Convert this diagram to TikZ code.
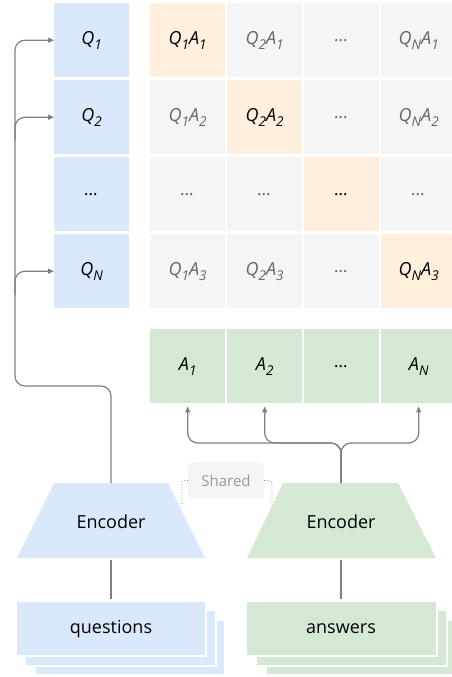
\documentclass[tikz,border=0pt]{standalone}
\usepackage{fontspec}
\setmainfont{Open Sans}
\usetikzlibrary{arrows.meta}
\definecolor{qblue}{HTML}{DAE8FC}
\definecolor{agreen}{HTML}{D5E8D4}
\definecolor{diag}{HTML}{FFEFDC}
\definecolor{cellgray}{HTML}{F5F5F5}
\definecolor{linegray}{HTML}{808080}
\definecolor{txtgray}{HTML}{666666}
\definecolor{sharedtxt}{HTML}{9A9A9A}
\newcommand\qsub[2]{#1\raisebox{-0.28em}{\fontsize{13.5}{14}\selectfont #2}}
\begin{document}
\begin{tikzpicture}[x=1pt,y=-1pt,
  cell/.style={minimum width=75pt,minimum height=74pt,inner sep=0pt,anchor=north west,
    font=\fontsize{18}{21}\selectfont\itshape},
  qcell/.style={cell,fill=qblue,text=black},
  gcell/.style={cell,fill=cellgray,text=txtgray},
  dcell/.style={cell,fill=diag,text=black},
  acell/.style={cell,fill=agreen,text=black},
  conn/.style={draw=linegray,line width=1.2pt,rounded corners=10pt},
  arr/.style={conn,-{Triangle[length=6pt,width=5pt]}},
  layerq/.style={fill=qblue,draw=white,line width=1.2pt},
  layera/.style={fill=agreen,draw=white,line width=1.2pt},
  lbl/.style={font=\fontsize{18}{21}\selectfont,text=black,inner sep=0pt},
  dotconn/.style={draw=linegray,dotted,line width=0.7pt,rounded corners=3pt}]
\useasboundingbox (0,0) rectangle (451,677);

% Q column
\node[qcell] (q1) at (54,3) {\qsub{Q}{1}};
\node[qcell] (q2) at (54,80) {\qsub{Q}{2}};
\node[qcell] (q3) at (54,157) {...};
\node[qcell] (qn) at (54,234) {\qsub{Q}{N}};

% matrix
\node[dcell] (m11) at (150,3) {\qsub{Q}{1}\qsub{A}{1}};
\node[gcell] (m21) at (227,3) {\qsub{Q}{2}\qsub{A}{1}};
\node[gcell] (m31) at (304,3) {...};
\node[gcell] (m41) at (381,3) {\qsub{Q}{N}\qsub{A}{1}};

\node[gcell] (m12) at (150,80) {\qsub{Q}{1}\qsub{A}{2}};
\node[dcell] (m22) at (227,80) {\qsub{Q}{2}\qsub{A}{2}};
\node[gcell] (m32) at (304,80) {...};
\node[gcell] (m42) at (381,80) {\qsub{Q}{N}\qsub{A}{2}};

\node[gcell] (m13) at (150,157) {...};
\node[gcell] (m23) at (227,157) {...};
\node[dcell] (m33) at (304,157) {...};
\node[gcell] (m43) at (381,157) {...};

\node[gcell] (m14) at (150,234) {\qsub{Q}{1}\qsub{A}{3}};
\node[gcell] (m24) at (227,234) {\qsub{Q}{2}\qsub{A}{3}};
\node[gcell] (m34) at (304,234) {...};
\node[dcell] (m44) at (381,234) {\qsub{Q}{N}\qsub{A}{3}};

% A row
\node[acell] (a1) at (150,329) {\qsub{A}{1}};
\node[acell] (a2) at (227,329) {\qsub{A}{2}};
\node[acell] (a3) at (304,329) {...};
\node[acell] (an) at (381,329) {\qsub{A}{N}};

% encoders
\fill[qblue] (54,483) -- (168,483) -- (205,558) -- (17,558) -- cycle;
\fill[agreen] (283,483) -- (398,483) -- (436,558) -- (247,558) -- cycle;
\node[lbl] (encq) at (111,522) {Encoder};
\node[lbl] (enca) at (341,522) {Encoder};
\coordinate (encqtop) at (111,483);
\coordinate (encatop) at (341,483);
\coordinate (encqbot) at (111,560);
\coordinate (encabot) at (341,560);

% stacks
\draw[layerq] (35,620) rectangle (225,675);
\draw[layerq] (25,610) rectangle (216,666);
\draw[layerq] (16,601) rectangle (206,656);
\draw[layera] (266,620) rectangle (456,675);
\draw[layera] (256,610) rectangle (447,666);
\draw[layera] (246,601) rectangle (437,656);
\node[lbl] (qs) at (111,629) {questions};
\node[lbl] (as) at (341,629) {answers};
\coordinate (qstop) at (111,599);
\coordinate (astop) at (341,599);

% encoder to stacks
\draw[draw=linegray,line width=1.2pt] (encqbot) -- (qstop);
\draw[draw=linegray,line width=1.2pt] (encabot) -- (astop);

% shared
\node[fill=cellgray,rounded corners=5pt,minimum width=76pt,minimum height=37pt,inner sep=0pt,
  text=sharedtxt,font=\fontsize{15}{17}\selectfont] (sh) at (226,480.5) {Shared};
\coordinate (shl) at (182,508);
\coordinate (shr) at (272,503);
\draw[dotconn] (sh.west) -| (shl);
\draw[dotconn] (sh.east) -| (shr);

% question connectors
\coordinate (vq) at (15,386);
\coordinate (b2) at (15,140);
\coordinate (bn) at (15,295);
\draw[arr] (encqtop) |- (vq) |- (q1.west);
\draw[arr] (b2) |- (q2.west);
\draw[arr] (bn) |- (qn.west);

% answer connectors
\coordinate (split) at (341,443);
\draw[arr,shorten >=3pt] (encatop) -- (split) -| (a1.south);
\draw[arr,shorten >=3pt] (encatop) -- (split) -| (a2.south);
\draw[arr,shorten >=3pt] (encatop) -- (split) -| (an.south);
\end{tikzpicture}
\end{document}
